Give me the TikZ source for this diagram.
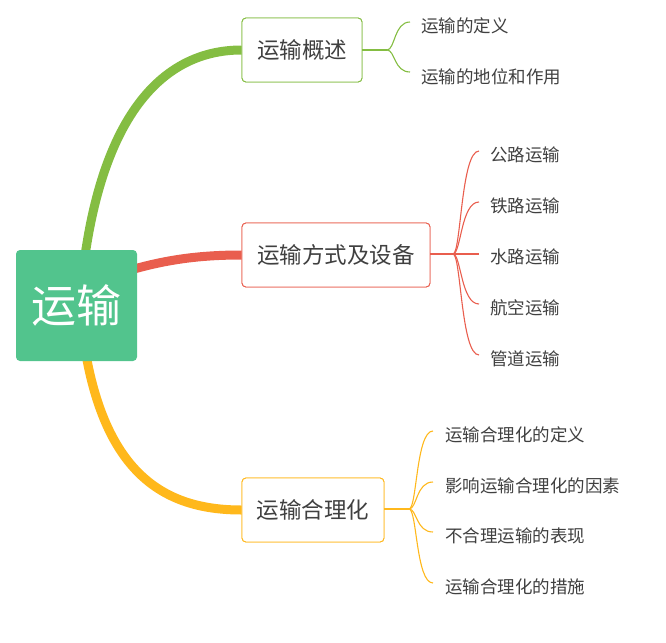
\documentclass[tikz,border=0pt]{standalone}
\usepackage{fontspec}
\newfontfamily\cjk{Noto Sans CJK SC}
\definecolor{rootc}{HTML}{52C48D}
\definecolor{gc}{HTML}{84BD42}
\definecolor{rc}{HTML}{E95E4E}
\definecolor{yc}{HTML}{FFB81C}
\definecolor{txt}{HTML}{404040}
\begin{document}
\begin{tikzpicture}[x=1pt,y=-1pt,
  rootbox/.style={fill=rootc,rounded corners=4pt,minimum width=121pt,minimum height=111pt,inner sep=0pt,text=white,font=\cjk\fontsize{45}{50}\selectfont},
  branchbox/.style={draw=#1,fill=white,line width=0.9pt,rounded corners=4pt,minimum height=64pt,inner sep=0pt,text=txt,font=\cjk\fontsize{22.5}{26}\selectfont},
  leaftext/.style={anchor=west,inner sep=0pt,text=txt,font=\cjk\fontsize{17.5}{20}\selectfont},
  thick link/.style={draw=#1,line width=9pt},
  leaf link/.style={draw=#1,line width=1.1pt}
]
\useasboundingbox (0,0) rectangle (666,642);
% thick main connectors
\coordinate (gs) at (80,300);
\coordinate (ys) at (80,310);
\coordinate (rs) at (100,280);
\node[branchbox=gc,minimum width=120pt] (b1) at (302,50) {运输概述};
\node[branchbox=rc,minimum width=188pt] (b2) at (336,255) {运输方式及设备};
\node[branchbox=yc,minimum width=142pt] (b3) at (313,510) {运输合理化};
\draw[thick link=gc] (gs) .. controls (95,120) and (160,50) .. (b1.west);
\draw[thick link=rc] (rs) .. controls (150,262) and (190,255) .. (b2.west);
\draw[thick link=yc] (ys) .. controls (95,470) and (160,510) .. (b3.west);
\node[rootbox] (root) at (76.5,305.5) {运输};
% redraw boxes over connectors
\node[branchbox=gc,minimum width=120pt] at (302,50) {运输概述};
\node[branchbox=rc,minimum width=188pt] at (336,255) {运输方式及设备};
\node[branchbox=yc,minimum width=142pt] at (313,510) {运输合理化};
% branch 1 leaves
\coordinate (f1) at (387,50);
\draw[leaf link=gc] (b1.east) -- (f1);
\coordinate (l11) at (410,22);
\coordinate (l12) at (410,72);
\node[leaftext] (t11) at (421,26) {运输的定义};
\node[leaftext] (t12) at (421,77) {运输的地位和作用};
\foreach \l in {l11,l12}{\draw[leaf link=gc] (f1) .. controls +(8,0) and +(-16,0) .. (\l);}
% branch 2 leaves
\coordinate (f2) at (453,254);
\draw[leaf link=rc] (b2.east|-f2) -- (f2);
\coordinate (l21) at (479,151);
\coordinate (l22) at (479,202);
\coordinate (l23) at (479,254);
\coordinate (l24) at (479,304);
\coordinate (l25) at (479,355);
\node[leaftext] (t21) at (490,155) {公路运输};
\node[leaftext] (t22) at (490,206) {铁路运输};
\node[leaftext] (t23) at (490,257) {水路运输};
\node[leaftext] (t24) at (490,308) {航空运输};
\node[leaftext] (t25) at (490,359) {管道运输};
\foreach \l in {l21,l22,l24,l25}{\draw[leaf link=rc] (f2) .. controls +(8,0) and +(-18,0) .. (\l);}
\draw[leaf link=rc] (f2) -- (l23);
% branch 3 leaves
\coordinate (f3) at (409,509);
\draw[leaf link=yc] (b3.east|-f3) -- (f3);
\coordinate (l31) at (433,431);
\coordinate (l32) at (433,482);
\coordinate (l33) at (433,532);
\coordinate (l34) at (433,583);
\node[leaftext] (t31) at (445,435) {运输合理化的定义};
\node[leaftext] (t32) at (445,486) {影响运输合理化的因素};
\node[leaftext] (t33) at (445,536) {不合理运输的表现};
\node[leaftext] (t34) at (445,587) {运输合理化的措施};
\foreach \l in {l31,l32,l33,l34}{\draw[leaf link=yc] (f3) .. controls +(8,0) and +(-17,0) .. (\l);}
\end{tikzpicture}
\end{document}
